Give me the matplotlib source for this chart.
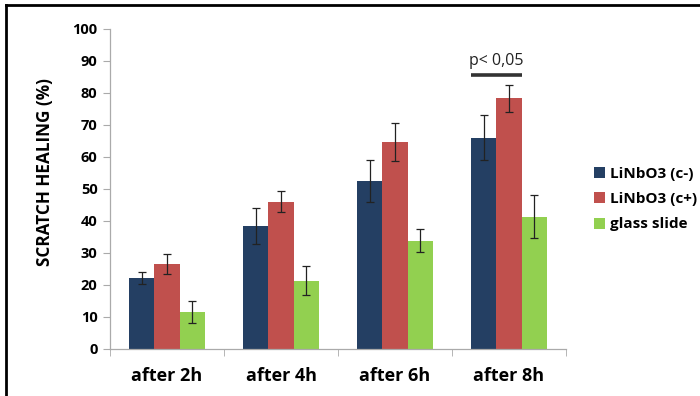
import matplotlib
matplotlib.use("Agg")
import matplotlib.pyplot as plt
from matplotlib.lines import Line2D
import numpy as np

CATEGORIES = ["after 2h", "after 4h", "after 6h", "after 8h"]
SERIES = ["LiNbO3 (c-)", "LiNbO3 (c+)", "glass slide"]
C_MINUS = [22.2, 38.5, 52.5, 66.0]
C_PLUS = [26.6, 46.0, 64.6, 78.3]
GLASS = [11.5, 21.4, 33.8, 41.3]
C_MINUS_ERR = [1.9, 5.7, 6.6, 7.0]
C_PLUS_ERR = [3.2, 3.3, 5.9, 4.1]
GLASS_ERR = [3.5, 4.4, 3.6, 6.7]
SIG_TEXT = "p< 0,05"
SIG_Y = 85.6

COLORS = ["#243F63", "#C0504D", "#92D050"]

plt.rcParams["font.family"] = ["Open Sans", "DejaVu Sans"]

fig = plt.figure(figsize=(7.0, 3.96), dpi=100)
ax = fig.add_axes([110 / 700, 47 / 396, 456 / 700, 320 / 396])

x = np.arange(len(CATEGORIES))
width = 0.22
values = [C_MINUS, C_PLUS, GLASS]
errors = [C_MINUS_ERR, C_PLUS_ERR, GLASS_ERR]
for i, (vals, errs, col, lbl) in enumerate(zip(values, errors, COLORS, SERIES)):
    ax.bar(x + (i - 1) * width, vals, width, color=col, label=lbl,
           yerr=errs, capsize=3,
           error_kw=dict(ecolor="#222222", elinewidth=0.9, capthick=0.9))

# significance bar over the 8h group (c- vs c+)
ax.plot([x[3] - 1.5 * width, x[3] + 0.5 * width], [SIG_Y, SIG_Y],
        color="#333333", linewidth=2.6, solid_capstyle="butt")
ax.text(x[3] - 0.5 * width, SIG_Y + 2.0, SIG_TEXT, ha="center", va="bottom",
        fontsize=11.5, color="#222222")

ax.set_xlim(-0.5, len(CATEGORIES) - 0.5)
ax.set_ylim(0, 100)
ax.set_yticks(range(0, 101, 10))
ax.set_xticks(x)
ax.set_xticklabels(CATEGORIES, fontsize=13, fontweight="bold")
ax.set_xticks(np.arange(-0.5, len(CATEGORIES), 1.0), minor=True)
ax.tick_params(axis="x", which="major", length=0, pad=13)
ax.tick_params(axis="x", which="minor", length=5, color="#AAAAAA", direction="out")
ax.tick_params(axis="y", length=5, color="#AAAAAA", direction="out", pad=4)
for lab in ax.get_yticklabels():
    lab.set_fontweight("bold")
    lab.set_fontsize(10.5)

for side in ["top", "right"]:
    ax.spines[side].set_visible(False)
for side in ["left", "bottom"]:
    ax.spines[side].set_color("#AAAAAA")
    ax.spines[side].set_linewidth(0.9)

fig.text(45 / 700, 1 - 172 / 396, "SCRATCH HEALING (%)", rotation=90,
         ha="center", va="center", fontsize=12.3, fontweight="bold")

ax.legend(loc="center left", bbox_to_anchor=(580 / 700, 1 - 199 / 396),
          bbox_transform=fig.transFigure, frameon=False,
          prop={"weight": "bold", "size": 11}, handlelength=0.75,
          handleheight=0.75, handletextpad=0.3, labelspacing=0.75)

# frame lines of the original screenshot
fig.add_artist(Line2D([6 / 700, 1.0], [1 - 5 / 396, 1 - 5 / 396], color="black",
                      linewidth=2, transform=fig.transFigure))
fig.add_artist(Line2D([6 / 700, 6 / 700], [0, 1 - 5 / 396], color="black",
                      linewidth=2, transform=fig.transFigure))

fig.savefig("out.png", dpi=100)
